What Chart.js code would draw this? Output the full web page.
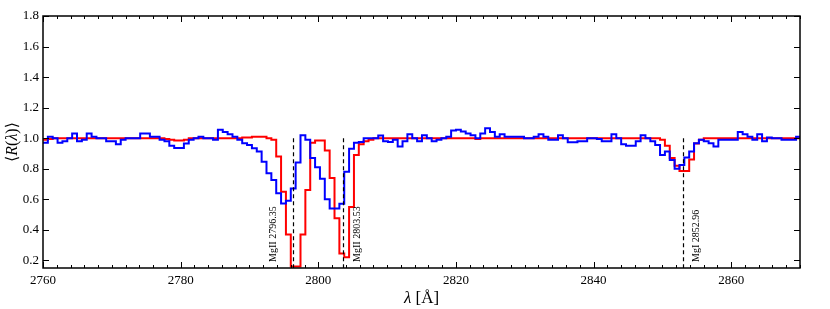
<!DOCTYPE html>
<html>
<head>
<meta charset="utf-8">
<script src="https://cdn.jsdelivr.net/npm/chart.js@4.4.0/dist/chart.umd.min.js"></script>
<style>
  html, body { margin: 0; padding: 0; background: #fff; }
  #wrap { width: 830px; height: 309px; }
</style>
</head>
<body>
<div id="wrap"><canvas id="spec" width="830" height="309"></canvas></div>
<script>
// wavelength grid: first bin start and bin width (Angstrom)
const waveStart = 2760;
const binWidth = 0.706;

// stacked spectrum (blue)
const stackFlux = [
  0.97, 1.01, 1.0, 0.97, 0.98, 1.0, 1.03, 0.98, 0.99, 1.03,
  1.01, 1.0, 1.0, 0.98, 0.98, 0.96, 0.99, 1.0, 1.0, 1.0,
  1.03, 1.03, 1.01, 1.01, 0.99, 0.98, 0.95, 0.935, 0.935, 0.965,
  0.99, 1.0, 1.01, 1.0, 1.0, 0.99, 1.055, 1.04, 1.026, 1.01,
  0.99, 0.967, 0.956, 0.934, 0.912, 0.846, 0.77, 0.726, 0.64, 0.573,
  0.59, 0.67, 0.84, 1.02, 0.99, 0.87, 0.81, 0.735, 0.60, 0.54,
  0.54, 0.57, 0.78, 0.93, 0.97, 0.975, 1.0, 1.0, 1.0, 1.017,
  0.98, 0.975, 0.99, 0.945, 0.98, 1.025, 1.0, 0.98, 1.02, 1.0,
  0.98, 0.99, 1.0, 1.01, 1.05, 1.055, 1.043, 1.03, 1.02, 1.0,
  1.03, 1.065, 1.04, 1.01, 1.026, 1.01, 1.01, 1.01, 1.01, 1.0,
  1.0, 1.01, 1.025, 1.01, 0.99, 0.99, 1.02, 1.0, 0.973, 0.973,
  0.98, 0.98, 1.0, 1.0, 0.995, 0.98, 0.98, 1.026, 1.0, 0.96,
  0.95, 0.95, 0.98, 1.02, 1.0, 0.98, 0.956, 0.89, 0.912, 0.857,
  0.80, 0.824, 0.873, 0.912, 0.967, 0.99, 0.98, 0.967, 0.945, 0.99,
  0.99, 0.99, 0.99, 1.04, 1.026, 1.01, 0.99, 1.026, 0.98, 1.005,
  1.0, 1.0, 0.99, 0.99, 0.99, 1.01, 0.98
];

// model spectrum (red)
const modelFlux = [
  0.99, 0.995, 1.0, 1.0, 1.0, 1.0, 1.0, 1.0, 1.0, 1.0,
  1.0, 1.0, 1.0, 1.0, 1.0, 1.0, 1.0, 1.0, 1.0, 1.0,
  1.0, 1.0, 1.0, 1.0, 1.0, 0.995, 0.99, 0.985, 0.985, 0.99,
  1.0, 1.0, 1.0, 1.0, 1.0, 1.0, 1.0, 1.0, 1.0, 1.0,
  1.0, 1.005, 1.005, 1.01, 1.01, 1.01, 1.0, 0.99, 0.88, 0.65,
  0.37, 0.16, 0.16, 0.37, 0.66, 0.97, 0.985, 0.985, 0.92, 0.74,
  0.475, 0.245, 0.22, 0.55, 0.89, 0.96, 0.98, 0.99, 1.0, 1.0,
  1.0, 1.0, 1.0, 1.0, 1.0, 1.0, 1.0, 1.0, 1.0, 1.0,
  1.0, 1.0, 1.0, 1.0, 1.0, 1.0, 1.0, 1.0, 1.0, 0.995,
  1.0, 1.0, 1.0, 1.0, 1.0, 1.0, 1.0, 1.0, 1.0, 1.0,
  1.0, 1.0, 1.0, 1.0, 1.0, 1.0, 1.0, 1.0, 1.0, 1.0,
  1.0, 1.0, 1.0, 1.0, 1.0, 1.0, 1.0, 1.0, 1.0, 1.0,
  1.0, 1.0, 1.0, 1.0, 1.0, 1.0, 1.0, 0.99, 0.95, 0.87,
  0.82, 0.785, 0.785, 0.86, 0.965, 0.99, 1.0, 1.0, 1.0, 1.0,
  1.0, 1.0, 1.0, 1.0, 1.0, 1.0, 1.0, 1.0, 1.0, 1.0,
  1.0, 1.0, 1.0, 1.0, 1.0, 1.0, 1.0
];

// absorption line markers
const lineWaves = [2796.35, 2803.53, 2852.96];
const lineNames = ['MgII 2796.35', 'MgII 2803.53', 'MgI 2852.96'];
const lineLabelShift = [-20, 15, 14];

const xTicks = [2760, 2780, 2800, 2820, 2840, 2860];
const yTicks = [0.2, 0.4, 0.6, 0.8, 1.0, 1.2, 1.4, 1.6, 1.8];

const serif = '"Liberation Serif", "DejaVu Serif", serif';

function toPoints(values) {
    return values.map((v, i) => ({ x: waveStart + i * binWidth, y: v }));
}

// draws parts of text in a row, some italic
function drawParts(ctx, parts, size) {
    let total = 0;
    parts.forEach(p => {
        ctx.font = (p.italic ? 'italic ' : '') + size + 'px ' + serif;
        p.w = ctx.measureText(p.t).width;
        total += p.w;
    });
    let cx = -total / 2;
    parts.forEach(p => {
        ctx.font = (p.italic ? 'italic ' : '') + size + 'px ' + serif;
        ctx.fillText(p.t, cx, 0);
        cx += p.w;
    });
}

const framePlugin = {
    id: 'frame',
    afterDatasetsDraw(chart) {
        const { ctx, chartArea: a, scales: { x, y } } = chart;
        ctx.save();
        // marker lines
        ctx.strokeStyle = '#000';
        ctx.lineWidth = 1.2;
        ctx.setLineDash([4, 3]);
        lineWaves.forEach((w, i) => {
            const px = Math.round(x.getPixelForValue(w)) + 0.5;
            ctx.beginPath();
            ctx.moveTo(px, y.getPixelForValue(1.0));
            ctx.lineTo(px, a.bottom);
            ctx.stroke();
        });
        ctx.setLineDash([]);
        ctx.fillStyle = '#000';
        ctx.font = '10px ' + serif;
        ctx.textAlign = 'left';
        ctx.textBaseline = 'middle';
        lineWaves.forEach((w, i) => {
            ctx.save();
            ctx.translate(x.getPixelForValue(w) + lineLabelShift[i], y.getPixelForValue(0.19));
            ctx.rotate(-Math.PI / 2);
            ctx.fillText(lineNames[i], 0, 0);
            ctx.restore();
        });
        ctx.restore();
    },
    afterDraw(chart) {
        const { ctx, chartArea: a, scales: { x, y } } = chart;
        ctx.save();
        ctx.strokeStyle = '#000';
        ctx.lineWidth = 1;
        ctx.beginPath();
        for (let v = 2760; v <= 2870; v += 2) {
            const px = Math.round(x.getPixelForValue(v)) + 0.5;
            const len = (v % 20 === 0) ? 6 : 3;
            ctx.moveTo(px, a.bottom); ctx.lineTo(px, a.bottom - len);
            ctx.moveTo(px, a.top); ctx.lineTo(px, a.top + len);
        }
        yTicks.forEach(v => {
            const py = Math.round(y.getPixelForValue(v)) + 0.5;
            ctx.moveTo(a.left, py); ctx.lineTo(a.left + 6, py);
            ctx.moveTo(a.right, py); ctx.lineTo(a.right - 6, py);
        });
        ctx.stroke();
        ctx.lineWidth = 1.5;
        ctx.strokeRect(a.left, a.top, a.right - a.left, a.bottom - a.top);

        // axis titles
        ctx.fillStyle = '#000';
        ctx.textBaseline = 'alphabetic';
        ctx.textAlign = 'left';
        ctx.save();
        ctx.translate((a.left + a.right) / 2, a.bottom + 35);
        drawParts(ctx, [{ t: 'λ', italic: true }, { t: ' [Å]' }], 17);
        ctx.restore();
        ctx.save();
        ctx.translate(17, (a.top + a.bottom) / 2);
        ctx.rotate(-Math.PI / 2);
        drawParts(ctx, [{ t: '⟨' }, { t: 'R', italic: true }, { t: '(' }, { t: 'λ', italic: true }, { t: ')⟩' }], 16);
        ctx.restore();
        ctx.restore();
    }
};

const chart = new Chart(document.getElementById('spec').getContext('2d'), {
    type: 'line',
    data: {
        datasets: [
            { label: 'stack', data: toPoints(stackFlux), borderColor: '#0000ff', borderWidth: 2,
              stepped: 'before', pointRadius: 0, fill: false, clip: 0 },
            { label: 'model', data: toPoints(modelFlux), borderColor: '#ff0000', borderWidth: 2,
              stepped: 'before', pointRadius: 0, fill: false, clip: 0 }
        ]
    },
    options: {
        responsive: false,
        animation: false,
        devicePixelRatio: 1,
        layout: { padding: { top: 16, right: 30, left: 0, bottom: 0 } },
        plugins: { legend: { display: false }, tooltip: { enabled: false } },
        scales: {
            x: {
                type: 'linear', min: 2760, max: 2870,
                afterBuildTicks: s => { s.ticks = xTicks.map(v => ({ value: v })); },
                afterFit: s => { s.height = 41; },
                grid: { display: false, drawTicks: false },
                border: { display: false },
                ticks: { font: { family: serif, size: 13 }, color: '#000', padding: 5, maxRotation: 0,
                         callback: v => String(v) }
            },
            y: {
                type: 'linear', min: 0.15, max: 1.8,
                afterBuildTicks: s => { s.ticks = yTicks.map(v => ({ value: v })); },
                afterFit: s => { s.width = 43; },
                grid: { display: false, drawTicks: false },
                border: { display: false },
                ticks: { font: { family: serif, size: 13 }, color: '#000', padding: 4,
                         callback: v => v.toFixed(1) }
            }
        }
    },
    plugins: [framePlugin]
});
</script>
</body>
</html>
